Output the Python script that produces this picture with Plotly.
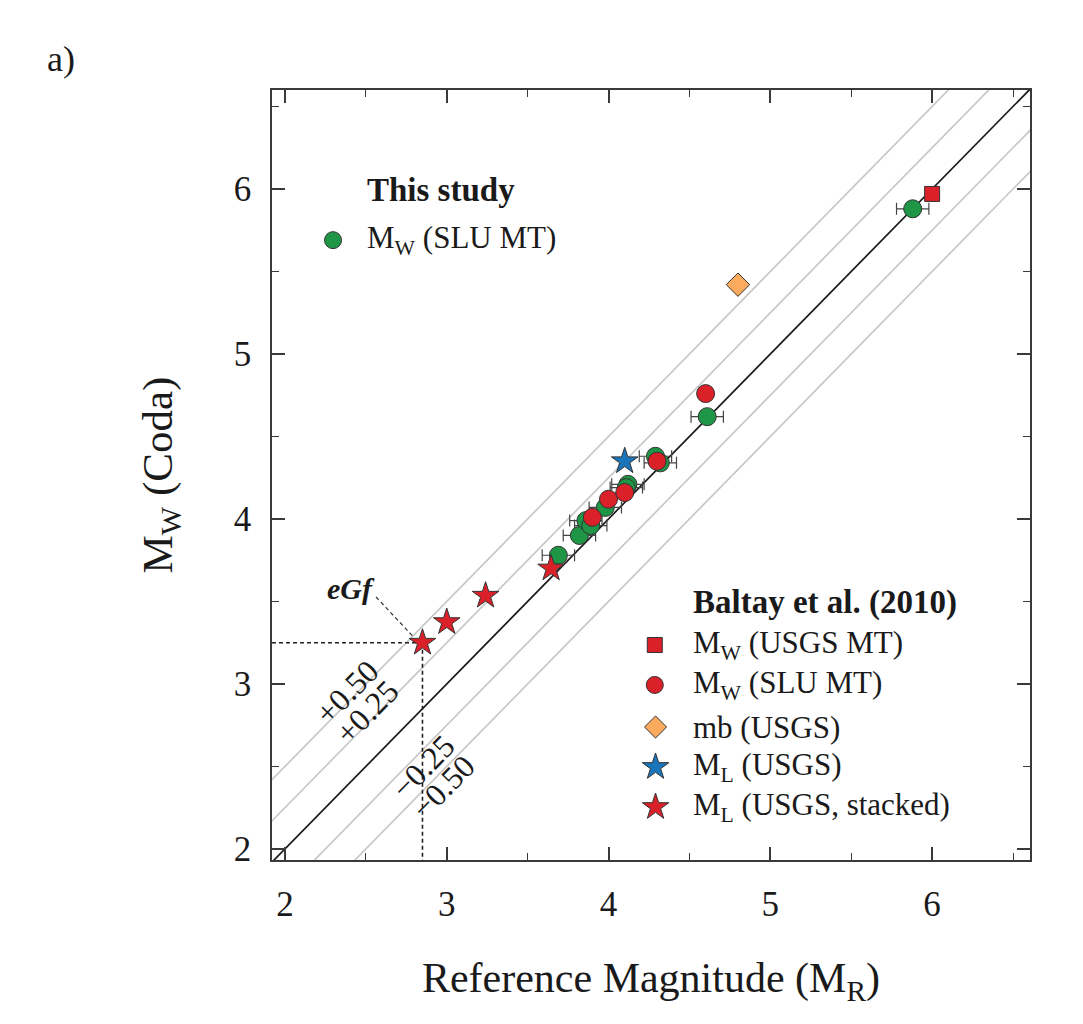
import plotly.graph_objects as go

# ---------------- data ----------------
# This study: Mw (SLU MT) vs coda Mw
slu_x = [3.69, 3.82, 3.86, 3.89, 3.98, 4.12, 4.11, 4.29, 4.32, 4.61, 5.88]
slu_y = [3.78, 3.90, 3.99, 3.96, 4.07, 4.21, 4.19, 4.38, 4.34, 4.62, 5.88]
slu_err = [0.1] * len(slu_x)

# Baltay et al. (2010)
usgs_mt_x = [6.00]
usgs_mt_y = [5.97]
b_slu_x = [3.90, 4.00, 4.10, 4.30, 4.60]
b_slu_y = [4.01, 4.12, 4.16, 4.35, 4.76]
mb_x = [4.80]
mb_y = [5.42]
ml_x = [4.10]
ml_y = [4.35]
mls_x = [2.85, 3.00, 3.24, 3.645]
mls_y = [3.25, 3.375, 3.535, 3.70]

offsets = [0.5, 0.25, -0.25, -0.5]
offset_labels = ["+0.50", "+0.25", "\u22120.25", "\u22120.50"]

x_range = [1.92, 6.605]
y_range = [1.933, 6.6]
tick_vals = [2, 3, 4, 5, 6]

GREEN = "#1E9646"
RED = "#DA2129"
ORANGE = "#FBAA5E"
BLUE = "#1B75BB"
EDGE = "#333333"
FONT = "Liberation Serif, Times New Roman, serif"
TXT = "#1a1a1a"

fig = go.Figure()

# reference lines
lx = [1.0, 7.5]
for off in offsets:
    fig.add_trace(go.Scatter(x=lx, y=[v + off for v in lx], mode="lines",
                             line=dict(color="#c8c8c8", width=1.7),
                             hoverinfo="skip", showlegend=False))
fig.add_trace(go.Scatter(x=lx, y=lx, mode="lines",
                         line=dict(color="#1a1a1a", width=1.7),
                         hoverinfo="skip", showlegend=False))

# eGf guide lines (dashed), from the first stacked ML star
egf_x, egf_y = mls_x[0], mls_y[0]
fig.add_trace(go.Scatter(x=[x_range[0], egf_x], y=[egf_y, egf_y], mode="lines",
                         line=dict(color="#222", width=1.6, dash="4px,3px"),
                         hoverinfo="skip", showlegend=False))
fig.add_trace(go.Scatter(x=[egf_x, egf_x], y=[egf_y, y_range[0]], mode="lines",
                         line=dict(color="#222", width=1.6, dash="4px,3px"),
                         hoverinfo="skip", showlegend=False))

mk_line = dict(color=EDGE, width=1)

# This study
fig.add_trace(go.Scatter(x=slu_x, y=slu_y, mode="markers",
                         error_x=dict(type="data", array=slu_err, color="#444444",
                                      thickness=1.2, width=6),
                         marker=dict(symbol="circle", size=18, color=GREEN, line=mk_line),
                         showlegend=False))
# Baltay
fig.add_trace(go.Scatter(x=b_slu_x, y=b_slu_y, mode="markers",
                         marker=dict(symbol="circle", size=18, color=RED, line=mk_line),
                         showlegend=False))
fig.add_trace(go.Scatter(x=ml_x, y=ml_y, mode="markers",
                         marker=dict(symbol="star", size=20, color=BLUE, line=mk_line),
                         showlegend=False))
fig.add_trace(go.Scatter(x=mls_x, y=mls_y, mode="markers",
                         marker=dict(symbol="star", size=20, color=RED, line=mk_line),
                         showlegend=False))
fig.add_trace(go.Scatter(x=usgs_mt_x, y=usgs_mt_y, mode="markers",
                         marker=dict(symbol="square", size=15, color=RED, line=mk_line),
                         showlegend=False))
fig.add_trace(go.Scatter(x=mb_x, y=mb_y, mode="markers",
                         marker=dict(symbol="diamond", size=18, color=ORANGE, line=mk_line),
                         showlegend=False))

# custom legend symbols on overlay axes (paper-like 0..1)
leg_sym = [
    (0.0805, 0.805, "circle", 17, GREEN),
    (0.5050, 0.2792, "square", 15, RED),
    (0.5050, 0.2273, "circle", 17, RED),
    (0.5060, 0.1727, "diamond", 17, ORANGE),
    (0.5060, 0.1208, "star", 20, BLUE),
    (0.5060, 0.0688, "star", 20, RED),
]
for lxp, lyp, sym, sz, col in leg_sym:
    fig.add_trace(go.Scatter(x=[lxp], y=[lyp], xaxis="x2", yaxis="y2", mode="markers",
                             marker=dict(symbol=sym, size=sz, color=col, line=mk_line),
                             hoverinfo="skip", showlegend=False))

ann = []
tf = dict(family=FONT, size=31, color=TXT)
tfb = dict(family=FONT, size=33, color=TXT)
ann.append(dict(xref="paper", yref="paper", x=0.1227, y=0.870, text="<b>This study</b>",
                showarrow=False, xanchor="left", yanchor="middle", font=tfb))
ann.append(dict(xref="paper", yref="paper", x=0.1227, y=0.805, text="M<sub>W</sub> (SLU MT)",
                showarrow=False, xanchor="left", yanchor="middle", font=tf))
ann.append(dict(xref="paper", yref="paper", x=0.5528, y=0.3338, text="<b>Baltay et al. (2010)</b>",
                showarrow=False, xanchor="left", yanchor="middle", font=tfb))
leg_txt = ["M<sub>W</sub> (USGS MT)", "M<sub>W</sub> (SLU MT)", "mb (USGS)",
           "M<sub>L</sub> (USGS)", "M<sub>L</sub> (USGS, stacked)"]
for (lxp, lyp, *_), t in zip(leg_sym[1:], leg_txt):
    ann.append(dict(xref="paper", yref="paper", x=0.5528, y=lyp, text=t,
                    showarrow=False, xanchor="left", yanchor="middle", font=tf))

# offset line labels
lab_pos = [(2.383, 2.95), (2.507, 2.83), (2.853, 2.497), (2.977, 2.376)]
for (px, py), t in zip(lab_pos, offset_labels):
    ann.append(dict(x=px, y=py, text=t, showarrow=False, textangle=-45.6,
                    font=dict(family=FONT, size=32, color=TXT)))

# eGf label
ann.append(dict(x=2.41, y=3.58, text="<b><i>eGf</i></b>", showarrow=False,
                font=dict(family=FONT, size=30, color=TXT)))

# panel label
ann.append(dict(xref="paper", yref="paper", x=-0.30, y=1.04, text="a)", showarrow=False,
                xanchor="left", yanchor="middle", font=dict(family=FONT, size=36, color=TXT)))

shapes = [dict(type="line", x0=2.563, y0=3.527, x1=2.79, y1=3.29,
               line=dict(color="#333", width=1.2, dash="4px,3px"))]

axis_common = dict(showgrid=False, zeroline=False, showline=True, linecolor="#3a3a3a",
                   linewidth=1.5, mirror="allticks", ticks="inside", ticklen=13,
                   tickwidth=1.5, tickcolor="#3a3a3a",
                   tickfont=dict(family=FONT, size=35, color=TXT),
                   minor=dict(dtick=0.5, tick0=0, ticks="inside", ticklen=7,
                              tickwidth=1.3, tickcolor="#3a3a3a"))

fig.update_layout(
    width=1083, height=1024,
    margin=dict(l=272, r=53, t=90, b=164),
    paper_bgcolor="white", plot_bgcolor="white",
    showlegend=False,
    xaxis=dict(range=x_range, tickvals=tick_vals, ticklabelstandoff=12,
               title=dict(text="Reference Magnitude (M<sub>R</sub>)", standoff=40,
                          font=dict(family=FONT, size=42, color=TXT)),
               **axis_common),
    yaxis=dict(range=y_range, tickvals=tick_vals, ticklabelstandoff=12,
               title=dict(text="M<sub>W</sub> (Coda)", standoff=48,
                          font=dict(family=FONT, size=43, color=TXT)),
               **axis_common),
    xaxis2=dict(range=[0, 1], overlaying="x", visible=False, fixedrange=True),
    yaxis2=dict(range=[0, 1], overlaying="y", visible=False, fixedrange=True),
    annotations=ann,
    shapes=shapes,
)

fig.write_html("out.html")
